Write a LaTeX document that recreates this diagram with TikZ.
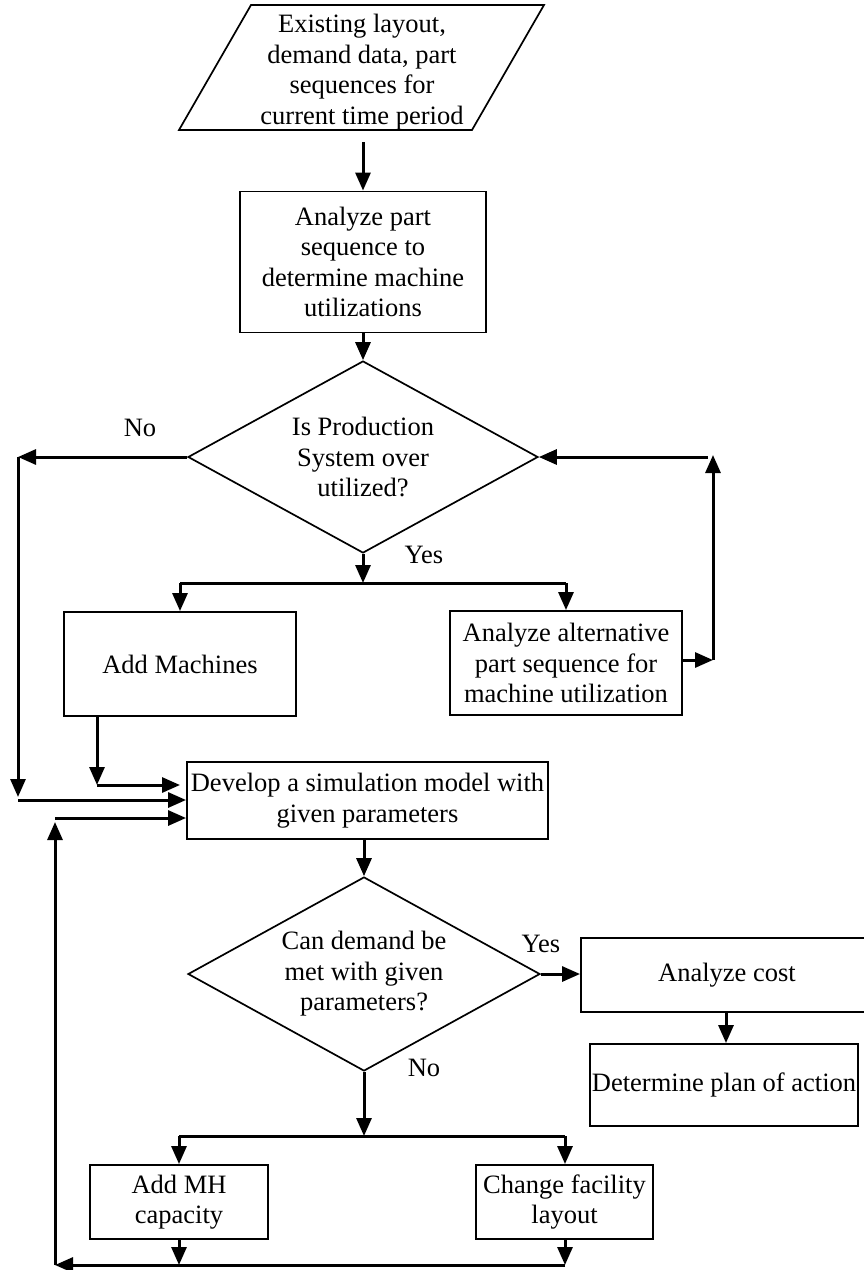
\documentclass[tikz,border=0pt]{standalone}
\usepackage{fontspec}
\setmainfont{Liberation Serif}
\usetikzlibrary{shapes.geometric,arrows.meta}
\begin{document}
\begin{tikzpicture}[x=1pt,y=-1pt,
  every node/.style={font=\fontsize{26.5}{30.5}\selectfont, align=center, inner sep=0pt},
  proc/.style={draw, line width=1.9pt, rectangle},
  decision/.style={draw, line width=1.7pt, diamond, shape aspect=1.8},
  arr/.style={line width=3pt, -{Triangle[length=18pt,width=15pt]}},
  link/.style={line width=3pt}]
\useasboundingbox (0,0) rectangle (863,1270);

% input data (parallelogram)
\draw[line width=1.7pt] (179,130) -- (251,5) -- (544,5) -- (472,130) -- cycle;
\node (input) at (362,72) {Existing layout,\\demand data, part\\sequences for\\current time period};
\coordinate (inout) at (363,142);

% process nodes
\node[proc, minimum width=246, minimum height=141] (util) at (363,262)
  {Analyze part\\sequence to\\determine machine\\utilizations};
\node[decision, minimum width=350, minimum height=192] (over) at (363,457)
  {Is Production\\System over\\utilized?};
\node[proc, minimum width=232, minimum height=104] (addm) at (180,664) {Add Machines};
\node[proc, minimum width=232, minimum height=104] (alt) at (566,663)
  {Analyze alternative\\part sequence for\\machine utilization};
\node[proc, minimum width=361, minimum height=77] (sim) at (367.5,800.5)
  {Develop a simulation model with\\given parameters};
\node[decision, minimum width=352, minimum height=194] (meet) at (364,974)
  {Can demand be\\met with given\\parameters?};
\node[proc, minimum width=292, minimum height=74] (cost) at (727,975) {Analyze cost};
\node[proc, minimum width=268, minimum height=82] (plan) at (724,1085) {Determine plan of action};
\node[proc, minimum width=178, minimum height=74] (mh) at (179,1202) {Add MH\\capacity};
\node[proc, minimum width=177, minimum height=74] (lay) at (564.5,1202) {Change facility\\layout};

% labels
\node (no1) at (140,428) {No};
\node (yes1) at (424,555) {Yes};
\node (yes2) at (541,944) {Yes};
\node (no2) at (424,1068) {No};

% corner points of the connectors
\coordinate (noL) at (18,457);
\coordinate (noD) at (18,797);
\coordinate (noB) at (18,800);
\coordinate (j1) at (363,583);
\coordinate (r1) at (713,660);
\coordinate (r2) at (713,455);
\coordinate (r3) at (708,457);
\coordinate (amB) at (97,785);
\coordinate (amE) at (180,785);
\coordinate (j2) at (364,1136);
\coordinate (bR) at (565,1265);
\coordinate (bL) at (55,1265);
\coordinate (bU) at (55,822);
\coordinate (bT) at (55,818);

% connectors
\draw[arr] (inout) -- (util.north);
\draw[arr] (util.south) -- (over.north);
\draw[arr] (over.west) -- (noL);
\draw[arr] (noL) -- (noD);
\draw[arr] (noB) -- (noB -| sim.west);
\draw[arr] (over.south) -- (j1);
\draw[link] (j1 -| addm.north) -- (j1 -| alt.north);
\draw[arr] (j1 -| addm.north) -- (addm.north);
\draw[arr] (j1 -| alt.north) -- (alt.north);
\draw[arr] (alt.east |- r1) -- (r1);
\draw[arr] (r1) -- (r2);
\draw[arr] (r3) -- (over.east);
\draw[arr] (addm.south -| amB) -- (amB);
\draw[arr] (amB) -- (amE);
\draw[arr] (meet.north |- sim.south) -- (meet.north);
\draw[arr] (meet.east) -- (meet.east -| cost.west);
\draw[arr] (cost.south -| 726,0) -- (plan.north -| 726,0);
\draw[arr] (meet.south) -- (j2);
\draw[link] (j2 -| mh.north) -- (j2 -| bR);
\draw[arr] (j2 -| mh.north) -- (mh.north);
\draw[arr] (j2 -| bR) -- (lay.north -| bR);
\draw[arr] (mh.south) -- (mh.south |- bL);
\draw[arr] (lay.south -| bR) -- (bR);
\draw[arr] (bR) -- (bL);
\draw[arr] (bL) -- (bU);
\draw[arr] (bT) -- (bT -| sim.west);
\end{tikzpicture}
\end{document}
